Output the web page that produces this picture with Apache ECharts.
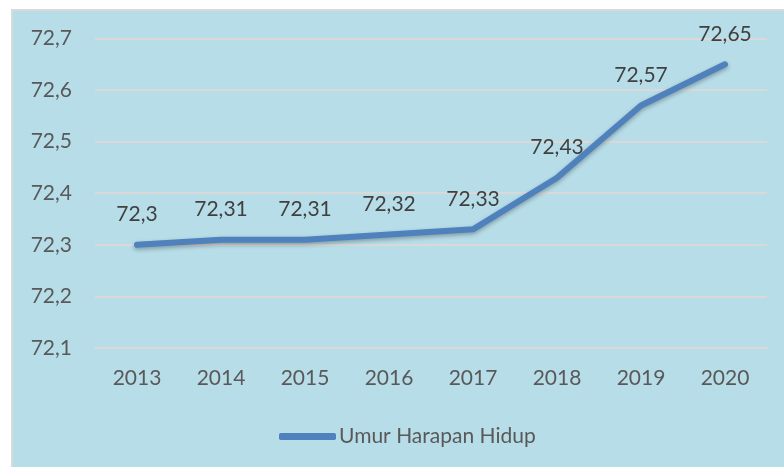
<!DOCTYPE html>
<html>
<head>
<meta charset="utf-8">
<script src="https://cdn.jsdelivr.net/npm/echarts@6/dist/echarts.min.js"></script>
<style>
  html, body { margin: 0; padding: 0; background: #fff; }
  .panel {
    position: absolute; left: 11px; top: 9px; width: 773px; height: 458px;
    background: #b7dde8; border-left: 2px solid #d9d9d9; border-top: 2px solid #d9d9d9;
    box-sizing: border-box;
  }
  #chart { position: absolute; left: 0; top: 0; width: 784px; height: 467px; }
</style>
</head>
<body>
<div class="panel"></div>
<div id="chart"></div>
<script>
// data
const years = ['2013', '2014', '2015', '2016', '2017', '2018', '2019', '2020']
const uhh = [72.3, 72.31, 72.31, 72.32, 72.33, 72.43, 72.57, 72.65]
const seriesName = 'Umur Harapan Hidup'

const koma = v => String(v).replace('.', ',')

let myChart = echarts.init(document.getElementById('chart'))
let option = {
  textStyle: { fontFamily: 'Lato' },
  grid: { left: 95, right: 17, top: 38.5, bottom: 119 },
  legend: {
    data: [seriesName],
    left: 274,
    top: 421,
    icon: 'roundRect',
    itemWidth: 57,
    itemHeight: 7,
    itemGap: 3,
    textStyle: { fontSize: 21, color: '#595959', fontFamily: 'Lato', padding: [0, 0, 0, -2] }
  },
  xAxis: {
    type: 'category',
    data: years,
    axisLine: { lineStyle: { color: '#d9d9d9', width: 2 } },
    axisTick: { show: false },
    axisLabel: { fontSize: 21, color: '#595959', margin: 20 }
  },
  yAxis: {
    type: 'value',
    min: 72.1,
    max: 72.7,
    interval: 0.1,
    axisLine: { show: false },
    axisTick: { show: false },
    splitLine: { lineStyle: { color: '#d9d9d9', width: 2 } },
    axisLabel: {
      fontSize: 21, color: '#595959', margin: 23,
      formatter: v => v.toFixed(1).replace('.', ',')
    }
  },
  series: [{
    name: seriesName,
    type: 'line',
    data: uhh,
    showSymbol: true,
    symbolSize: 0,
    color: '#4f81bd',
    lineStyle: {
      width: 6, cap: 'round', join: 'round',
      shadowColor: 'rgba(0,0,0,0.3)', shadowBlur: 4, shadowOffsetY: 2
    },
    label: {
      show: true, position: 'top', distance: 20,
      fontSize: 21, color: '#404040',
      formatter: p => koma(p.value)
    },
    emphasis: { disabled: true },
    animation: false
  }]
}
myChart.setOption(option)
window.addEventListener('resize', () => { myChart.resize() })
</script>
</body>
</html>
